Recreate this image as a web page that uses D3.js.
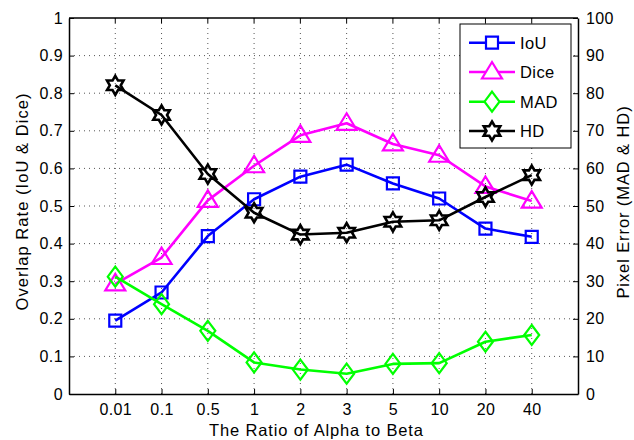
<!DOCTYPE html>
<html><head><meta charset="utf-8">
<script src="https://cdn.jsdelivr.net/npm/d3@7"></script>
<style>body{margin:0;background:#fff}svg{display:block}text{font-family:"Liberation Sans",Arial,sans-serif;fill:#000}</style>
</head><body><svg id="c" width="634" height="440"></svg>
<script>
const categories = ["0.01","0.1","0.5","1","2","3","5","10","20","40"];
const iou  = [0.195,0.27,0.42,0.518,0.578,0.61,0.56,0.52,0.44,0.418];
const dice = [0.293,0.363,0.515,0.607,0.688,0.72,0.665,0.635,0.552,0.513];
const mad  = [31.2,23.9,16.8,8.4,6.5,5.4,8.0,8.2,13.9,15.7];
const hd   = [82.1,74.2,58.5,48.2,42.4,42.9,45.8,46.2,52.4,58.2];
const leftTicks = [0,0.1,0.2,0.3,0.4,0.5,0.6,0.7,0.8,0.9,1];
const rightTicks = [0,10,20,30,40,50,60,70,80,90,100];
const legendNames = ["IoU","Dice","MAD","HD"];

const svg = d3.select("#c");
const L=69,R=578,T=18,B=394;
const x = d3.scaleLinear().domain([0,categories.length+1]).range([L,R]);
const yl = d3.scaleLinear().domain([0,1]).range([B,T]);
const yr = d3.scaleLinear().domain([0,100]).range([B,T]);

// grid
const g = svg.append("g");
categories.forEach((c,i)=>{
  g.append("line").attr("x1",x(i+1)).attr("x2",x(i+1)).attr("y1",T).attr("y2",B)
   .attr("stroke","#555").attr("stroke-width",1).attr("stroke-dasharray","1,4");
});
leftTicks.slice(1,-1).forEach(v=>{
  g.append("line").attr("x1",L).attr("x2",R).attr("y1",yl(v)).attr("y2",yl(v))
   .attr("stroke","#555").attr("stroke-width",1).attr("stroke-dasharray","1,4");
});

// axes
const fs = "16px";
const ax = svg.append("g").attr("transform",`translate(0,${B})`)
  .call(d3.axisBottom(x).tickValues(categories.map((c,i)=>i+1)).tickFormat((d,i)=>categories[i]).tickSizeInner(-5).tickSizeOuter(0).tickPadding(10));
const ayl = svg.append("g").attr("transform",`translate(${L},0)`)
  .call(d3.axisLeft(yl).tickValues(leftTicks).tickFormat(d=>d===0||d===1?d3.format("d")(d):d3.format(".1f")(d)).tickSizeInner(-5).tickSizeOuter(0).tickPadding(6));
const ayr = svg.append("g").attr("transform",`translate(${R},0)`)
  .call(d3.axisRight(yr).tickValues(rightTicks).tickSizeInner(-5).tickSizeOuter(0).tickPadding(8));
[ax,ayl,ayr].forEach(a=>{
  a.selectAll("text").style("font-size",fs).style("font-family","Liberation Sans, Arial, sans-serif").style("letter-spacing","0.4px");
  a.selectAll("line").attr("stroke","#000").attr("stroke-width",1);
  a.select(".domain").attr("stroke","#000").attr("stroke-width",1.5);
});
// top border + top ticks
svg.append("line").attr("x1",L).attr("x2",R).attr("y1",T).attr("y2",T).attr("stroke","#000").attr("stroke-width",1.5);
categories.forEach((c,i)=>{
  svg.append("line").attr("x1",x(i+1)).attr("x2",x(i+1)).attr("y1",T).attr("y2",T+5).attr("stroke","#000");
});

// series
const lw=2.6;
const series = [
  {name:"IoU",vals:iou,y:yl,color:"#0000ff",m:"square"},
  {name:"Dice",vals:dice,y:yl,color:"#ff00ff",m:"tri"},
  {name:"MAD",vals:mad,y:yr,color:"#00ff00",m:"diamond"},
  {name:"HD",vals:hd,y:yr,color:"#000000",m:"hex"}
];
function markerPath(m){
  if(m==="square") return "M-6,-6H6V6H-6Z";
  if(m==="tri") return "M0,-10L10,6.5L-10,6.5Z";
  if(m==="diamond") return "M0,-10L7.5,0L0,10L-7.5,0Z";
  if(m==="hex"){
    const Ro=9.5, Ri=Ro/Math.sqrt(3); let p=[];
    for(let k=0;k<12;k++){const a=-Math.PI/2+k*Math.PI/6;const r=k%2?Ri:Ro;p.push([r*Math.cos(a),r*Math.sin(a)]);}
    return "M"+p.map(q=>q[0].toFixed(2)+","+q[1].toFixed(2)).join("L")+"Z";
  }
}
series.forEach(s=>{
  const line=d3.line().x((d,i)=>x(i+1)).y(d=>s.y(d));
  svg.append("path").datum(s.vals).attr("d",line).attr("fill","none").attr("stroke",s.color).attr("stroke-width",lw).attr("stroke-linejoin","round");
  svg.selectAll(null).data(s.vals).enter().append("path")
    .attr("transform",(d,i)=>`translate(${x(i+1)},${s.y(d)})`)
    .attr("d",markerPath(s.m)).attr("fill","none").attr("stroke",s.color).attr("stroke-width",s.m==="hex"?2.6:2.2);
});

// legend
const lg = svg.append("g");
lg.append("rect").attr("x",460).attr("y",24).attr("width",111).attr("height",124).attr("fill","#fff").attr("stroke","#000").attr("stroke-width",1);
const rowsY=[42.7,72,101.7,131];
series.forEach((s,i)=>{
  lg.append("line").attr("x1",469).attr("x2",515).attr("y1",rowsY[i]).attr("y2",rowsY[i]).attr("stroke",s.color).attr("stroke-width",lw);
  lg.append("path").attr("transform",`translate(492,${rowsY[i]})`).attr("d",markerPath(s.m)).attr("fill","#fff").attr("stroke",s.color).attr("stroke-width",s.m==="hex"?2.6:2.2);
  lg.append("text").attr("x",520).attr("y",rowsY[i]+6).style("font-size","16.5px").style("letter-spacing","0.4px").text(legendNames[i]);
});

// titles
svg.append("text").attr("x",316).attr("y",436).attr("text-anchor","middle").style("font-size","16.5px")
  .attr("textLength",214).attr("lengthAdjust","spacing").text("The Ratio of Alpha to Beta");
svg.append("text").attr("transform",`translate(28,202) rotate(-90)`).attr("text-anchor","middle").style("font-size","16.5px")
  .attr("textLength",217).attr("lengthAdjust","spacing").text("Overlap Rate (IoU & Dice)");
svg.append("text").attr("transform",`translate(629,202) rotate(-90)`).attr("text-anchor","middle").style("font-size","16.5px")
  .style("letter-spacing","0.9px").text("Pixel Error (MAD & HD)");
</script></body></html>
